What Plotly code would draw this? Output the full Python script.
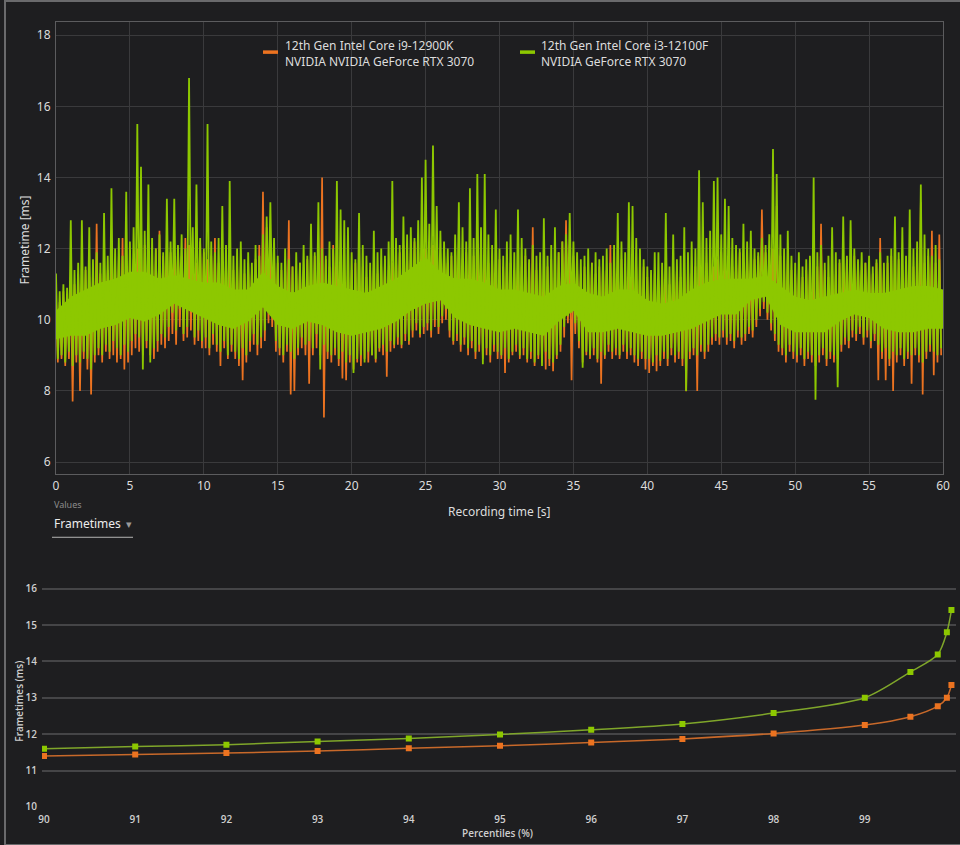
import plotly.graph_objects as go

# ---------------- data ----------------
BIN = 0.25  # seconds per bin; each bin holds a local high and a local low frametime

# green: 12th Gen Intel Core i3-12100F
G_HI = [
    11.3, 10.8, 11.0, 10.9, 12.8, 11.4, 11.6, 12.8, 11.5, 12.6, 11.7, 11.9, 11.6, 13.0, 11.8, 13.7, 12.0, 12.3, 11.8, 13.6,
    12.2, 12.6, 15.5, 14.3, 12.5, 13.8, 12.3, 12.0, 12.4, 11.9, 13.4, 12.2, 13.4, 12.1, 12.4, 12.0, 16.8, 12.6, 13.8, 12.3,
    12.0, 15.5, 12.2, 11.9, 12.3, 13.2, 12.1, 13.9, 11.8, 12.0, 12.2, 11.7, 11.9, 11.6, 12.1, 11.8, 12.4, 12.9, 13.3, 12.3,
    11.8, 11.6, 12.0, 11.7, 11.5, 11.9, 11.6, 12.1, 11.8, 12.7, 11.9, 13.3, 12.0, 11.8, 12.2, 12.0, 13.9, 13.1, 12.8, 12.6,
    11.9, 11.7, 13.0, 12.1, 11.8, 11.6, 12.5, 11.9, 12.0, 11.8, 12.2, 13.9, 12.3, 12.1, 12.9, 12.4, 12.6, 12.3, 12.8, 14.0,
    14.5, 12.7, 14.9, 13.2, 12.5, 12.2, 12.0, 11.9, 12.4, 13.3, 12.6, 12.2, 13.7, 12.3, 14.1, 12.6, 14.1, 12.4, 12.1, 13.1,
    12.0, 11.8, 12.2, 12.4, 11.9, 13.1, 12.3, 12.0, 11.7, 12.1, 11.8, 11.9, 12.85, 11.8, 12.1, 12.6, 11.9, 12.2, 12.4, 13.0,
    12.2, 11.9, 11.7, 11.8, 12.0, 11.6, 11.9, 11.7, 11.8, 12.0, 11.6, 12.1, 13.0, 12.2, 11.9, 13.3, 13.2, 12.3, 12.0, 11.7,
    11.5, 11.4, 11.9, 11.9, 11.6, 13.0, 11.5, 12.4, 11.7, 11.8, 12.6, 11.9, 12.2, 12.0, 14.2, 13.3, 12.3, 12.5, 13.9, 14.0,
    12.4, 13.4, 13.2, 12.3, 12.1, 12.0, 12.7, 12.2, 12.5, 12.0, 11.9, 12.3, 12.1, 12.4, 14.8, 14.1, 12.4, 12.0, 12.5, 11.8,
    11.6, 11.9, 11.5, 11.7, 11.8, 14.0, 11.9, 12.1, 11.6, 11.8, 12.6, 11.9, 11.7, 12.9, 11.8, 12.8, 12.0, 11.7, 11.9, 11.6,
    11.8, 11.5, 11.7, 11.9, 11.6, 11.8, 12.0, 12.9, 11.9, 12.6, 11.8, 13.1, 12.0, 12.2, 13.8, 12.4, 12.0, 11.8, 12.1, 11.7,
]
G_LO = [
    8.9, 9.0, 8.8, 9.1, 8.7, 9.0, 8.8, 9.1, 8.9, 8.6, 9.0, 9.2, 9.0, 9.3, 9.1, 9.4, 9.2, 9.0, 9.3, 9.1,
    9.4, 9.6, 9.5, 8.6, 9.4, 8.8, 9.2, 9.4, 9.6, 9.5, 9.8, 10.2, 9.7, 10.3, 9.6, 9.8, 10.4, 9.5, 9.7, 9.4,
    9.5, 9.2, 9.6, 9.3, 9.1, 9.4, 9.0, 9.3, 9.1, 8.9, 9.2, 9.0, 9.4, 9.6, 9.3, 9.5, 9.7, 10.4, 10.3, 9.4,
    9.2, 9.0, 9.3, 9.1, 8.9, 9.2, 9.5, 9.3, 9.4, 9.2, 9.6, 8.6, 9.3, 9.1, 9.0, 9.2, 8.9, 9.1, 8.8, 9.0,
    8.5, 8.9, 9.0, 8.8, 9.1, 9.0, 8.9, 9.2, 9.3, 9.1, 9.4, 9.3, 9.5, 9.3, 9.6, 9.4, 9.7, 9.9, 9.6, 9.8,
    9.9, 9.7, 10.0, 9.8, 10.1, 10.3, 9.7, 9.4, 9.6, 9.3, 9.5, 9.2, 9.4, 9.1, 9.3, 8.75, 9.2, 9.0, 9.3, 9.1,
    9.0, 9.2, 8.9, 9.1, 9.3, 9.0, 9.2, 8.9, 9.1, 8.8, 9.0, 8.7, 9.1, 8.9, 8.8, 9.0, 9.3, 9.8, 10.1, 10.2,
    9.9, 9.4, 8.65, 9.1, 9.0, 9.2, 8.9, 9.1, 9.0, 9.3, 9.1, 9.2, 9.0, 9.3, 9.1, 9.2, 9.0, 8.9, 9.1, 8.9,
    8.9, 8.8, 9.0, 8.85, 9.1, 8.9, 9.2, 9.0, 9.1, 8.9, 8.0, 9.1, 9.2, 9.0, 9.3, 9.1, 9.3, 9.5, 9.6, 9.5,
    9.7, 9.5, 9.6, 9.4, 9.7, 9.5, 9.6, 9.8, 9.7, 10.0, 10.3, 10.5, 10.2, 9.9, 9.6, 9.3, 9.2, 9.0, 9.3, 9.1,
    9.0, 9.2, 8.9, 9.1, 9.0, 7.75, 9.0, 9.2, 8.9, 9.1, 9.0, 8.1, 9.3, 9.5, 9.4, 9.7, 9.6, 9.8, 9.5, 9.7,
    9.4, 9.6, 9.3, 9.1, 9.2, 8.9, 9.1, 9.0, 9.2, 8.9, 9.1, 9.0, 9.2, 9.0, 8.8, 9.1, 9.3, 9.1, 9.0, 9.2,
]
# dense core of the green band (where the frametimes are packed solid), one value per second
G_CORE_T = list(range(0, 61))
G_CORE_TOP = [
    10.25, 10.65, 10.85, 11.05, 11.15, 11.35, 11.35, 11.15, 11.25, 11.15, 11.05, 11.05, 10.85, 10.85, 11.35, 10.95, 10.75,
    10.95, 11.05, 10.95, 10.85, 10.75, 10.95, 11.15, 11.45, 11.75, 11.35, 11.15, 11.15, 11.05, 10.85, 10.85, 10.75, 10.65,
    10.95, 11.05, 10.75, 10.65, 10.85, 10.85, 10.55, 10.45, 10.55, 10.85, 11.05, 11.15, 11.15, 11.15, 11.25, 10.95, 10.65,
    10.55, 10.65, 10.75, 10.85, 10.75, 10.75, 10.85, 10.95, 10.95, 10.85,
]
G_CORE_BOT = [
    9.45, 9.55, 9.55, 9.75, 9.85, 10.05, 9.95, 10.15, 10.45, 10.25, 10.05, 9.85, 9.75, 9.95, 10.35, 9.85, 9.75, 9.95, 9.85,
    9.65, 9.55, 9.65, 9.75, 9.95, 10.25, 10.45, 10.55, 10.05, 9.85, 9.75, 9.65, 9.75, 9.65, 9.55, 9.95, 10.25, 9.65, 9.65,
    9.75, 9.65, 9.55, 9.55, 9.65, 9.75, 9.95, 10.15, 10.15, 10.55, 10.65, 9.85, 9.65, 9.65, 9.65, 9.95, 10.15, 10.05, 9.75,
    9.65, 9.65, 9.75, 9.75,
]

# orange: 12th Gen Intel Core i9-12900K
O_HI = [
    10.6, 10.5, 10.8, 10.7, 11.2, 11.0, 11.3, 11.1, 11.4, 11.2, 11.5, 12.7, 11.3, 11.6, 11.4, 11.7, 11.5, 11.8, 12.3, 11.6,
    11.8, 11.7, 12.0, 11.8, 12.1, 11.9, 11.7, 12.0, 12.5, 11.8, 12.2, 11.9, 11.7, 12.0, 11.8, 12.3, 12.1, 11.9, 11.6, 12.2,
    11.9, 11.7, 11.8, 12.3, 11.6, 11.9, 11.7, 12.0, 11.4, 11.6, 11.5, 11.3, 11.6, 11.4, 11.7, 12.1, 13.6, 12.6, 12.2, 11.9,
    11.6, 11.4, 11.7, 12.8, 11.5, 11.3, 11.6, 11.4, 11.7, 11.5, 11.8, 11.6, 14.0, 11.7, 11.5, 12.1, 11.8, 11.6, 11.4, 11.5,
    11.4, 11.6, 11.3, 11.5, 11.2, 11.4, 11.6, 11.3, 11.5, 11.7, 11.4, 11.6, 11.8, 11.9, 12.1, 11.8, 12.0, 12.2, 11.9, 12.1,
    12.0, 11.8, 12.1, 11.9, 11.7, 11.9, 11.6, 11.8, 12.0, 12.2, 11.7, 11.9, 11.6, 11.8, 12.0, 11.7, 11.9, 11.6, 11.8, 11.5,
    11.7, 11.5, 11.8, 11.6, 11.4, 11.7, 11.5, 11.8, 11.6, 12.6, 11.4, 11.6, 11.3, 11.5, 11.7, 11.4, 11.9, 12.2, 12.8, 12.1,
    11.8, 11.5, 11.3, 11.5, 11.4, 11.6, 11.3, 11.5, 11.7, 11.4, 12.1, 11.6, 11.5, 11.7, 11.4, 11.6, 11.8, 11.5, 11.3, 11.5,
    11.2, 11.0, 11.3, 11.1, 11.4, 11.2, 11.0, 11.3, 11.5, 11.2, 11.4, 11.6, 11.3, 11.5, 11.7, 11.4, 11.6, 11.8, 11.5, 11.7,
    11.9, 11.6, 11.8, 11.5, 11.7, 11.9, 11.6, 11.8, 11.5, 11.7, 11.8, 13.1, 11.9, 11.6, 12.0, 13.2, 11.8, 11.5, 11.7, 11.4,
    11.3, 11.5, 11.2, 11.4, 11.6, 11.3, 11.5, 12.7, 11.4, 11.2, 11.5, 11.3, 11.6, 11.4, 11.7, 11.5, 11.8, 11.6, 11.4, 11.6,
    11.5, 11.3, 11.6, 12.3, 11.4, 11.6, 11.8, 11.5, 11.7, 11.4, 11.6, 11.8, 11.5, 11.7, 13.3, 11.6, 11.8, 12.5, 11.6, 12.4,
]
O_LO = [
    8.8, 8.9, 8.7, 8.9, 7.7, 8.8, 8.0, 8.9, 8.6, 7.9, 8.8, 9.0, 8.8, 9.1, 8.9, 9.0, 8.8, 8.9, 8.6, 8.8,
    9.0, 9.2, 9.1, 9.0, 9.2, 9.0, 8.9, 9.1, 9.3, 9.2, 9.4, 9.6, 9.3, 9.8, 9.4, 9.5, 9.7, 9.3, 9.4, 9.2,
    9.2, 9.0, 9.3, 9.1, 8.7, 9.2, 8.9, 9.1, 8.9, 8.7, 8.3, 8.8, 9.1, 9.3, 9.0, 9.2, 9.4, 9.9, 9.8, 9.1,
    9.0, 8.8, 9.1, 7.9, 8.0, 9.0, 9.2, 9.0, 8.2, 9.0, 9.2, 9.0, 7.25, 8.9, 8.8, 9.0, 8.7, 8.35, 8.3, 8.8,
    8.6, 8.8, 8.7, 8.9, 8.8, 9.0, 8.8, 9.1, 9.0, 8.4, 9.1, 9.2, 9.3, 9.2, 9.4, 9.3, 9.5, 9.7, 9.5, 9.6,
    9.7, 9.5, 9.8, 9.6, 9.9, 10.0, 9.5, 9.3, 9.4, 9.1, 9.3, 9.0, 9.2, 8.9, 9.1, 8.9, 9.0, 8.8, 9.1, 8.9,
    8.9, 8.5, 8.8, 9.0, 9.1, 8.9, 9.0, 8.8, 8.9, 8.7, 8.9, 8.8, 8.6, 8.7, 8.55, 8.9, 9.1, 9.5, 9.9, 8.3,
    9.6, 9.2, 8.8, 9.0, 8.9, 9.0, 8.8, 8.2, 8.9, 9.1, 8.9, 9.0, 8.9, 9.1, 8.9, 9.0, 8.8, 8.7, 8.9, 8.6,
    8.5, 8.7, 8.55, 8.7, 8.9, 8.7, 9.0, 8.8, 8.9, 8.7, 7.99, 8.9, 9.0, 8.0, 9.1, 8.9, 9.1, 9.3, 9.4, 9.3,
    9.5, 9.3, 9.4, 9.2, 9.5, 9.3, 9.4, 9.6, 9.5, 9.8, 10.1, 10.3, 10.0, 9.7, 9.4, 9.1, 9.0, 8.8, 9.1, 8.9,
    8.8, 9.0, 8.7, 8.9, 8.8, 8.7, 8.8, 9.0, 8.7, 8.9, 8.8, 8.9, 9.1, 9.3, 9.2, 9.5, 9.4, 9.6, 9.3, 9.5,
    9.2, 9.4, 8.3, 8.9, 8.3, 8.7, 8.0, 8.8, 9.0, 8.7, 8.9, 8.2, 9.0, 8.8, 7.9, 8.9, 9.1, 8.44, 8.8, 9.0,
]

SERIES_NAMES = [
    "12th Gen Intel Core i9-12900K<br>NVIDIA NVIDIA GeForce RTX 3070",
    "12th Gen Intel Core i3-12100F<br>NVIDIA GeForce RTX 3070",
]

# percentile chart
PCT = [90, 91, 92, 93, 94, 95, 96, 97, 98, 99, 99.5, 99.8, 99.9, 99.95]
PCT_ORANGE = [11.40, 11.44, 11.48, 11.54, 11.61, 11.68, 11.77, 11.87, 12.02, 12.25, 12.48, 12.77, 13.00, 13.35]
PCT_GREEN = [11.60, 11.66, 11.71, 11.80, 11.88, 11.99, 12.12, 12.28, 12.58, 13.00, 13.71, 14.19, 14.80, 15.41]

TOP_XTICKS = [0, 5, 10, 15, 20, 25, 30, 35, 40, 45, 50, 55, 60]
TOP_YTICKS = [6, 8, 10, 12, 14, 16, 18]
BOT_XTICKS = [90, 91, 92, 93, 94, 95, 96, 97, 98, 99]
BOT_YTICKS = [10, 11, 12, 13, 14, 15, 16]

# ---------------- styling ----------------
W, H = 960, 845          # reference picture size (layout positions are measured in it)
FIG_W, FIG_H = 971, 854  # figure size (the capture shrinks the page by about 1 %)
BG = "#1e1e20"
ORANGE = "#ec7320"
GREEN = "#8dc800"
ORANGE_LINE = "#c8692a"
GREEN_LINE = "#7fa62a"
TXT = "#dcdcdc"
FONT = "Noto Sans"


def px_x(p):
    return p / W


def px_y(p):
    return (H - p) / H


def zigzag(hi, lo):
    xs, ys = [], []
    for i, (h, l) in enumerate(zip(hi, lo)):
        xs.append(i * BIN)
        ys.append(h)
        xs.append(i * BIN + BIN / 2)
        ys.append(l)
    return xs, ys


fig = go.Figure()

ox, oy = zigzag(O_HI, O_LO)
gx, gy = zigzag(G_HI, G_LO)
fig.add_trace(go.Scatter(x=ox, y=oy, mode="lines", line=dict(color=ORANGE, width=1.7),
                         name=SERIES_NAMES[0], xaxis="x", yaxis="y", hoverinfo="skip"))
# green dense core (filled band between bottom and top of the packed frametimes)
fig.add_trace(go.Scatter(x=G_CORE_T, y=G_CORE_BOT, mode="lines", line=dict(color=GREEN, width=0),
                         xaxis="x", yaxis="y", hoverinfo="skip", showlegend=False))
fig.add_trace(go.Scatter(x=G_CORE_T, y=G_CORE_TOP, mode="lines", line=dict(color=GREEN, width=0),
                         fill="tonexty", fillcolor=GREEN,
                         xaxis="x", yaxis="y", hoverinfo="skip", showlegend=False))
fig.add_trace(go.Scatter(x=gx, y=gy, mode="lines", line=dict(color=GREEN, width=1.8),
                         name=SERIES_NAMES[1], xaxis="x", yaxis="y", hoverinfo="skip"))

fig.add_trace(go.Scatter(x=PCT, y=PCT_ORANGE, mode="lines+markers",
                         line=dict(color=ORANGE_LINE, width=1.5, shape="spline", smoothing=0.8),
                         marker=dict(symbol="square", size=6, color=ORANGE),
                         name=SERIES_NAMES[0], xaxis="x2", yaxis="y2", showlegend=False))
fig.add_trace(go.Scatter(x=PCT, y=PCT_GREEN, mode="lines+markers",
                         line=dict(color=GREEN_LINE, width=1.5, shape="spline", smoothing=0.8),
                         marker=dict(symbol="square", size=6, color=GREEN),
                         name=SERIES_NAMES[1], xaxis="x2", yaxis="y2", showlegend=False))

top_font = dict(family=FONT, size=12, color=TXT)
bot_font = dict(family="Open Sans", size=10, color="#cfcfcf", weight=600)

fig.update_layout(
    width=FIG_W, height=FIG_H,
    margin=dict(l=0, r=0, t=0, b=0),
    paper_bgcolor=BG, plot_bgcolor=BG,
    showlegend=False,
    font=top_font,
    xaxis=dict(domain=[px_x(52), px_x(939)], range=[0, 60], tickvals=TOP_XTICKS,
               showgrid=True, gridcolor="#3a3a3c", gridwidth=1, zeroline=False,
               showline=True, mirror=True, linecolor="#5c5c5e", linewidth=1,
               ticks="", tickfont=top_font, anchor="y"),
    yaxis=dict(domain=[px_y(473), px_y(22)], range=[5.66, 18.37], tickvals=TOP_YTICKS,
               showgrid=True, gridcolor="#3a3a3c", gridwidth=1, zeroline=False,
               showline=True, mirror=True, linecolor="#5c5c5e", linewidth=1,
               ticks="outside", ticklen=2, tickcolor=BG, tickfont=top_font, anchor="x"),
    xaxis2=dict(domain=[px_x(38), px_x(952)], range=[89.978, 100.0], tickvals=BOT_XTICKS,
                showgrid=False, zeroline=False, showline=False,
                ticks="outside", ticklen=3, tickcolor=BG, tickfont=bot_font, anchor="y2"),
    yaxis2=dict(domain=[px_y(805), px_y(580)], range=[10, 16.2], tickvals=BOT_YTICKS,
                showgrid=True, gridcolor="#454547", gridwidth=1.6, zeroline=False, showline=False,
                ticks="outside", ticklen=2, tickcolor=BG, tickfont=bot_font, anchor="x2"),
)

annotations = [
    dict(text="Frametime [ms]", x=px_x(21), y=px_y(240), textangle=-90, font=top_font),
    dict(text="Recording time [s]", x=px_x(495), y=px_y(510), font=top_font),
    dict(text="Values", x=px_x(48), y=px_y(503), xanchor="left",
         font=dict(family=FONT, size=9, color="#8c8c8c")),
    dict(text="Frametimes", x=px_x(48), y=px_y(522), xanchor="left",
         font=dict(family=FONT, size=12, color="#ececec")),
    dict(text="▾", x=px_x(125), y=px_y(523), font=dict(family="DejaVu Sans", size=11, color="#9a9a9a")),
    dict(text="Frametimes (ms)", x=px_x(15), y=px_y(700), textangle=-90, font=bot_font),
    dict(text="Percentiles (%)", x=px_x(494), y=px_y(831), font=bot_font),
    dict(text=SERIES_NAMES[0], x=px_x(279), y=px_y(53), xanchor="left", align="left", font=top_font),
    dict(text=SERIES_NAMES[1], x=px_x(535), y=px_y(53), xanchor="left", align="left", font=top_font),
]
for a in annotations:
    a.update(xref="paper", yref="paper", showarrow=False)
    a.setdefault("xanchor", "center")
    a.setdefault("yanchor", "middle")
fig.update_layout(annotations=annotations)

shapes = [
    # outer frame
    dict(type="rect", x0=px_x(1), x1=px_x(958), y0=px_y(843), y1=px_y(1),
         line=dict(color="#6a6a6c", width=2)),
    # dropdown underline
    dict(type="line", x0=px_x(48), x1=px_x(129), y0=px_y(536), y1=px_y(536),
         line=dict(color="#b4b4b4", width=1)),
    # legend swatches
    dict(type="line", x0=px_x(259), x1=px_x(274), y0=px_y(52), y1=px_y(52),
         line=dict(color=ORANGE, width=3.5)),
    dict(type="line", x0=px_x(516), x1=px_x(531), y0=px_y(52), y1=px_y(52),
         line=dict(color=GREEN, width=3.5)),
]
for s in shapes:
    s.update(xref="paper", yref="paper")
fig.update_layout(shapes=shapes)

fig.write_html(
    "out.html",
    post_script="document.body.style.margin='0';document.body.style.overflow='hidden';"
                "document.body.style.background='" + BG + "';",
)
